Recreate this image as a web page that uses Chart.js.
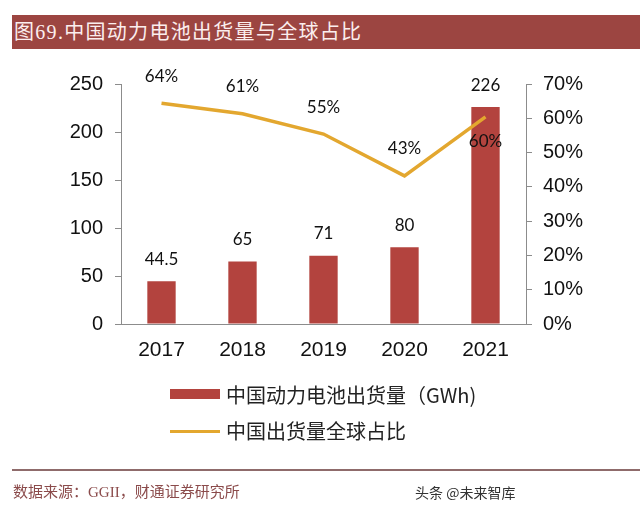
<!DOCTYPE html>
<html>
<head>
<meta charset="utf-8">
<script src="https://cdn.jsdelivr.net/npm/chart.js@4.4.0/dist/chart.umd.min.js"></script>
<style>
html,body{margin:0;padding:0;background:#fff;}
#wrap{position:relative;width:640px;height:510px;overflow:hidden;background:#fff;}
#c{position:absolute;left:0;top:0;}
.title{position:absolute;left:12px;top:15px;width:628px;height:34px;background:#9C4541;color:#fbeeee;
  font-family:"Liberation Serif","Noto Sans CJK SC",serif;font-size:20px;line-height:34px;letter-spacing:1.3px;padding-left:2px;box-sizing:border-box;white-space:nowrap;}
.lg{position:absolute;font-family:"Noto Sans CJK SC",sans-serif;font-size:20px;color:#222;white-space:nowrap;line-height:24px;}
.sw{position:absolute;}
.rule{position:absolute;left:12px;top:469px;width:628px;height:2px;background:#8f6b6b;}
.src{position:absolute;left:13px;top:482px;font-family:"Liberation Serif","Noto Sans CJK SC",serif;font-size:15px;color:#8B4B4B;white-space:nowrap;line-height:20px;}
.wm{position:absolute;left:415px;top:482px;font-family:"Noto Sans CJK SC",sans-serif;font-size:14px;color:#333;white-space:nowrap;line-height:20px;}
</style>
</head>
<body>
<div id="wrap">
  <canvas id="c" width="640" height="510"></canvas>
  <div class="title">图69.中国动力电池出货量与全球占比</div>
  <div class="sw" style="left:170px;top:389px;width:50px;height:10px;background:#B3433E;"></div>
  <div class="lg" style="left:226px;top:383px;">中国动力电池出货量（GWh)</div>
  <div class="sw" style="left:170px;top:430px;width:50px;height:3px;background:#E3A72F;"></div>
  <div class="lg" style="left:226px;top:419px;">中国出货量全球占比</div>
  <div class="rule"></div>
  <div class="src">数据来源：GGII，财通证券研究所</div>
  <div class="wm">头条 @未来智库</div>
</div>
<script>
const categories = ['2017', '2018', '2019', '2020', '2021'];
const shipmentGWh = [44.5, 65, 71, 80, 226];
const globalSharePct = [64.4, 61.3, 55.4, 43.2, 60.4];
const barSeriesName = '中国动力电池出货量（GWh)';
const lineSeriesName = '中国出货量全球占比';

const BAR_COLOR = '#B3433E';
const LINE_COLOR = '#E3A72F';
const AXIS_COLOR = '#8c8c8c';

const labelPlugin = {
  id: 'valueLabels',
  afterDatasetsDraw(chart) {
    const ctx = chart.ctx;
    ctx.save();
    ctx.font = '17px Lato, "Liberation Sans", sans-serif';
    ctx.fillStyle = '#111';
    ctx.textAlign = 'center';
    ctx.textBaseline = 'middle';
    chart.data.datasets.forEach((ds, di) => {
      const meta = chart.getDatasetMeta(di);
      meta.data.forEach((el, i) => {
        const v = ds.data[i];
        if (ds.type === 'bar') {
          ctx.fillText(String(v), el.x, el.y - 22);
        } else {
          const below = i === ds.data.length - 1;
          ctx.fillText(Math.round(v) + '%', el.x, below ? el.y + 25 : el.y - 27);
        }
      });
    });
    ctx.restore();
  }
};

new Chart(document.getElementById('c'), {
  data: {
    labels: categories,
    datasets: [
      {
        type: 'line',
        label: lineSeriesName,
        data: globalSharePct,
        yAxisID: 'y1',
        borderColor: LINE_COLOR,
        backgroundColor: LINE_COLOR,
        borderWidth: 3.5,
        pointRadius: 0,
        tension: 0,
        order: 0
      },
      {
        type: 'bar',
        label: barSeriesName,
        data: shipmentGWh,
        yAxisID: 'y',
        backgroundColor: BAR_COLOR,
        categoryPercentage: 1,
        barPercentage: 0.35,
        order: 1
      }
    ]
  },
  options: {
    responsive: false,
    animation: false,
    devicePixelRatio: 1,
    layout: { padding: { top: 84, bottom: 146, left: 0, right: 0 } },
    plugins: { legend: { display: false }, tooltip: { enabled: false } },
    scales: {
      x: {
        afterFit(s) { s.height = 40; },
        grid: { display: false },
        border: { display: true, color: AXIS_COLOR, width: 1 },
        ticks: { color: '#111', font: { family: '"Liberation Sans", Arial, sans-serif', size: 21 }, padding: 6 }
      },
      y: {
        position: 'left',
        min: 0, max: 250,
        afterFit(s) { s.width = 121; },
        grid: { drawOnChartArea: false, drawTicks: true, tickLength: 6, color: AXIS_COLOR },
        border: { display: true, color: AXIS_COLOR, width: 1 },
        ticks: { stepSize: 50, color: '#111', font: { family: '"Liberation Sans", Arial, sans-serif', size: 20 }, padding: 12 }
      },
      y1: {
        position: 'right',
        min: 0, max: 70,
        afterFit(s) { s.width = 114; },
        grid: { drawOnChartArea: false, drawTicks: true, tickLength: 6, color: AXIS_COLOR },
        border: { display: true, color: AXIS_COLOR, width: 1 },
        ticks: { stepSize: 10, color: '#111', font: { family: '"Liberation Sans", Arial, sans-serif', size: 20 }, padding: 11,
          callback: v => v + '%' }
      }
    }
  },
  plugins: [labelPlugin]
});
</script>
</body>
</html>
